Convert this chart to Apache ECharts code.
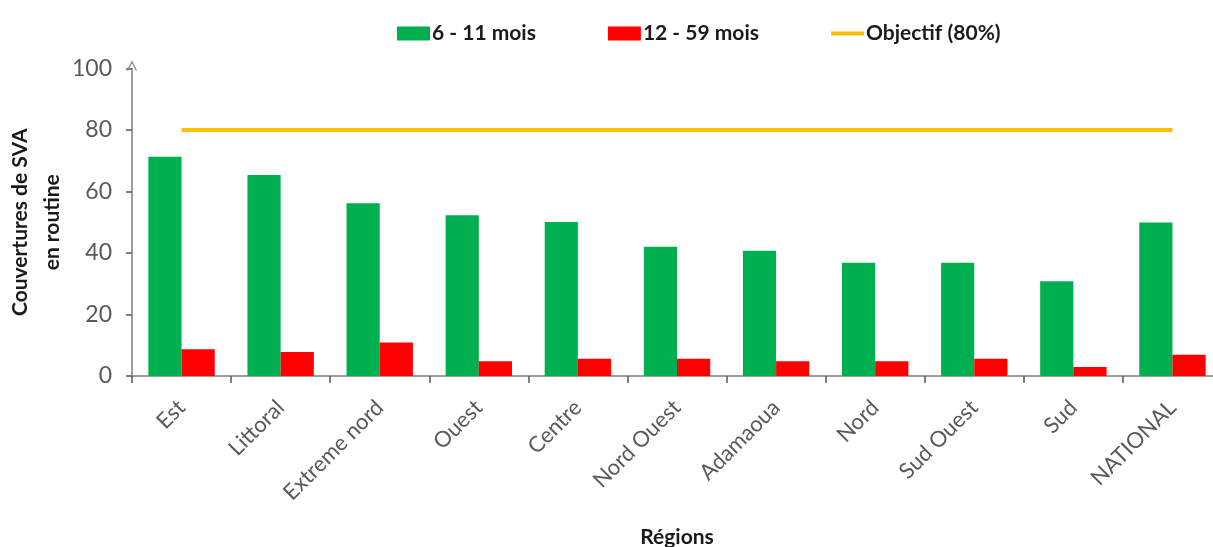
<!DOCTYPE html>
<html>
<head>
<meta charset="utf-8">
<script src="https://cdn.jsdelivr.net/npm/echarts@6/dist/echarts.min.js"></script>
<style>
  html, body { margin: 0; padding: 0; background: #ffffff; }
  #chart { width: 1213px; height: 547px; }
</style>
</head>
<body>
<div id="chart"></div>
<script>
const regions = ['Est', 'Littoral', 'Extreme nord', 'Ouest', 'Centre', 'Nord Ouest', 'Adamaoua', 'Nord', 'Sud Ouest', 'Sud', 'NATIONAL'];
const infants = [71.3, 65.4, 56.2, 52.3, 50.1, 42.0, 40.7, 36.8, 36.8, 30.8, 49.9];
const children = [8.7, 7.8, 10.9, 4.8, 5.6, 5.6, 4.8, 4.8, 5.6, 2.9, 6.9];
const objective = [80, 80, 80, 80, 80, 80, 80, 80, 80, 80, 80];
const yTicks = [0, 20, 40, 60, 80, 100];

const chart = echarts.init(document.querySelector('#chart'), null, {renderer: 'canvas'});
const fontFamily = 'Lato, "Open Sans", sans-serif';
const axisGrey = '#7f7f7f';
const labelGrey = '#595959';

const options = {
    backgroundColor: '#ffffff',
    animation: false,
    textStyle: { fontFamily: fontFamily },
    legend: {
        top: 18,
        left: 392,
        itemWidth: 33,
        itemHeight: 14,
        itemGap: 72,
        textStyle: { fontSize: 21, fontWeight: 'bold', color: '#1a1a1a', fontFamily: fontFamily, padding: [0, 0, 0, -3] },
        data: [
            { name: '6 - 11 mois', icon: 'rect' },
            { name: '12 - 59 mois', icon: 'rect' },
            { name: 'Objectif (80%)', icon: 'path://M0,5 L33,5 L33,9 L0,9 Z' }
        ]
    },
    grid: {
        left: 132,
        top: 68.5,
        right: -9,
        bottom: 171,
        containLabel: false,
        outerBoundsMode: 'none'
    },
    xAxis: {
        type: 'category',
        data: regions,
        name: 'Régions',
        nameLocation: 'middle',
        nameGap: 151,
        nameMoveOverlap: false,
        nameTextStyle: { fontSize: 21, fontWeight: 'bold', color: '#1a1a1a', fontFamily: fontFamily },
        axisLine: { lineStyle: { color: axisGrey, width: 1.5 } },
        axisTick: { show: true, inside: false, length: 7, alignWithLabel: false, lineStyle: { color: '#555', width: 1.5 } },
        axisLabel: { rotate: 45, fontSize: 22, color: labelGrey, margin: 28, fontFamily: fontFamily, interval: 0 }
    },
    yAxis: {
        type: 'value',
        min: 0,
        max: 100,
        interval: 20,
        name: 'Couvertures de SVA\nen routine',
        nameLocation: 'middle',
        nameGap: 64,
        nameMoveOverlap: false,
        nameRotate: 90,
        nameTextStyle: { fontSize: 21, fontWeight: 'bold', color: '#1a1a1a', fontFamily: fontFamily, lineHeight: 32 },
        axisLine: {
            show: true,
            symbol: ['none', 'path://M0,10 L5,0 L10,10 L8.6,10 L5,2.6 L1.4,10 Z'],
            symbolSize: [10, 11],
            symbolOffset: [0, 3],
            lineStyle: { color: axisGrey, width: 1.5 }
        },
        axisTick: { show: true, length: 6, lineStyle: { color: '#555', width: 1.5 } },
        axisLabel: {
            fontSize: 23,
            color: labelGrey,
            margin: 20,
            fontFamily: fontFamily,
            formatter: function (value) {
                return yTicks.includes(value) ? String(value) : '';
            }
        },
        splitLine: { show: false }
    },
    series: [
        {
            name: '6 - 11 mois',
            type: 'bar',
            data: infants,
            barGap: '0%',
            barCategoryGap: '33%',
            itemStyle: { color: '#00b050' }
        },
        {
            name: '12 - 59 mois',
            type: 'bar',
            data: children,
            barGap: '0%',
            barCategoryGap: '33%',
            itemStyle: { color: '#ff0000' }
        },
        {
            name: 'Objectif (80%)',
            type: 'line',
            data: objective,
            symbol: 'none',
            lineStyle: { color: '#ffc000', width: 4 },
            itemStyle: { color: '#ffc000' }
        }
    ]
};

chart.setOption(options);
window.addEventListener('resize', chart.resize);
</script>
</body>
</html>
